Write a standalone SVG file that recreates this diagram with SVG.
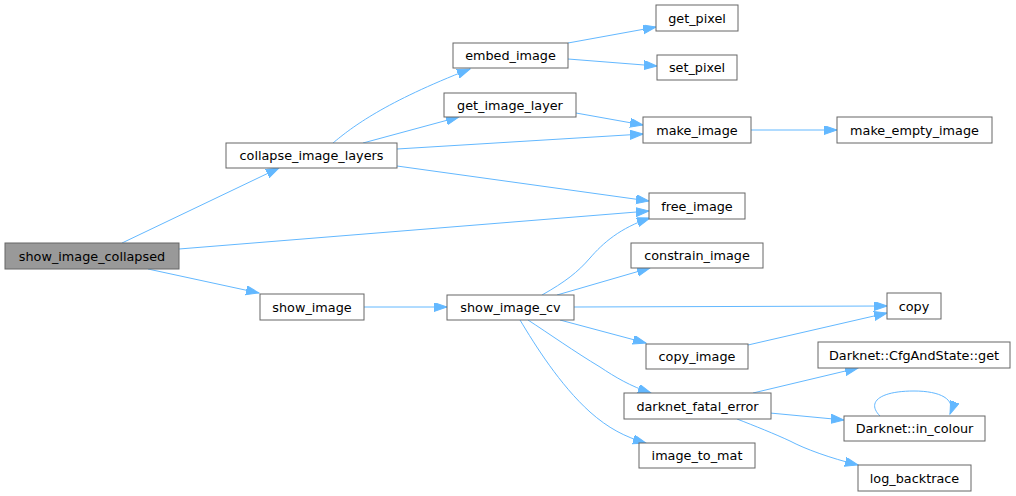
<svg xmlns="http://www.w3.org/2000/svg" width="1016" height="496" viewBox="0 0 1016 496">
<style>
.n rect{fill:#ffffff;stroke:#666666;stroke-width:1}
.n.root rect{fill:#999999}
.n text{font-family:"DejaVu Sans",sans-serif;font-size:12.8px;fill:#000000;text-anchor:middle}
.e path{fill:none;stroke:#63b8ff;stroke-width:1}
</style>
<defs>
<marker id="ah" markerUnits="userSpaceOnUse" markerWidth="14" markerHeight="10" refX="13" refY="4.5" orient="auto" viewBox="0 0 14 10">
<path d="M0,0 L13,4.5 L0,9 Z" fill="#63b8ff" stroke="#63b8ff" stroke-width="1"/>
</marker>
</defs>
<rect width="1016" height="496" fill="#ffffff"/>
<g id="edges" class="e" marker-end="url(#ah)">
<path d="M122,243 L279,168" marker-end="url(#ah)"/>
<path d="M179,249 L649,211" marker-end="url(#ah)"/>
<path d="M148,269 L259,293" marker-end="url(#ah)"/>
<path d="M333,143 C352,127 385,102 470,69" marker-end="url(#ah)"/>
<path d="M363,143 L459,117" marker-end="url(#ah)"/>
<path d="M397,149 L643,134" marker-end="url(#ah)"/>
<path d="M397,166 L649,201" marker-end="url(#ah)"/>
<path d="M568,43 L656,27" marker-end="url(#ah)"/>
<path d="M568,59 L657,66" marker-end="url(#ah)"/>
<path d="M576,113 L643,125" marker-end="url(#ah)"/>
<path d="M751,130 L837,130" marker-end="url(#ah)"/>
<path d="M364,307 L447,307" marker-end="url(#ah)"/>
<path d="M542,295 C565,282 578,272 590,258 C603,243 620,228 650,218" marker-end="url(#ah)"/>
<path d="M557,295 L650,268" marker-end="url(#ah)"/>
<path d="M574,307 L887,306" marker-end="url(#ah)"/>
<path d="M560,320 L646,343" marker-end="url(#ah)"/>
<path d="M528,320 C548,333 575,352 600,367 C615,377 630,386 651,393" marker-end="url(#ah)"/>
<path d="M520,320 C535,345 560,385 590,412 C608,428 625,437 646,443" marker-end="url(#ah)"/>
<path d="M748,345 L887,313" marker-end="url(#ah)"/>
<path d="M753,393 L858,368" marker-end="url(#ah)"/>
<path d="M770,413 L844,420" marker-end="url(#ah)"/>
<path d="M737,419 C755,426 775,434 790,441 C805,449 830,458 858,465" marker-end="url(#ah)"/>
<path d="M880,416 C866,402 880,391 914,391 C940,391 956,399 950,414" marker-end="url(#ah)"/>
</g>
<g id="show_image_collapsed" class="n root"><rect x="5" y="243" width="174" height="26"/><text x="92" y="260.5">show_image_collapsed</text></g>
<g id="collapse_image_layers" class="n"><rect x="226" y="143" width="171" height="25"/><text x="311.5" y="160">collapse_image_layers</text></g>
<g id="show_image" class="n"><rect x="260" y="294" width="104" height="26"/><text x="312" y="311.5">show_image</text></g>
<g id="embed_image" class="n"><rect x="453" y="43" width="115" height="25"/><text x="510.5" y="60">embed_image</text></g>
<g id="get_image_layer" class="n"><rect x="444" y="93" width="132" height="24"/><text x="510" y="109.5">get_image_layer</text></g>
<g id="get_pixel" class="n"><rect x="656" y="5" width="82" height="26"/><text x="697" y="22.5">get_pixel</text></g>
<g id="set_pixel" class="n"><rect x="657" y="55" width="80" height="25"/><text x="697" y="72">set_pixel</text></g>
<g id="make_image" class="n"><rect x="643" y="117" width="108" height="26"/><text x="697" y="134.5">make_image</text></g>
<g id="make_empty_image" class="n"><rect x="837" y="117" width="155" height="26"/><text x="914.5" y="134.5">make_empty_image</text></g>
<g id="free_image" class="n"><rect x="649" y="193" width="96" height="26"/><text x="697" y="210.5">free_image</text></g>
<g id="show_image_cv" class="n"><rect x="447" y="295" width="127" height="25"/><text x="510.5" y="312">show_image_cv</text></g>
<g id="constrain_image" class="n"><rect x="631" y="243" width="132" height="25"/><text x="697" y="260">constrain_image</text></g>
<g id="copy" class="n"><rect x="887" y="293" width="54" height="26"/><text x="914" y="310.5">copy</text></g>
<g id="copy_image" class="n"><rect x="646" y="344" width="102" height="25"/><text x="697" y="361">copy_image</text></g>
<g id="darknet_fatal_error" class="n"><rect x="624" y="393" width="147" height="26"/><text x="697.5" y="410.5">darknet_fatal_error</text></g>
<g id="image_to_mat" class="n"><rect x="639" y="443" width="116" height="25"/><text x="697" y="460">image_to_mat</text></g>
<g id="cfgandstate_get" class="n"><rect x="818" y="342" width="192" height="26"/><text x="914" y="359.5">Darknet::CfgAndState::get</text></g>
<g id="in_colour" class="n"><rect x="844" y="416" width="141" height="25"/><text x="914.5" y="433">Darknet::in_colour</text></g>
<g id="log_backtrace" class="n"><rect x="858" y="465" width="113" height="26"/><text x="914.5" y="482.5">log_backtrace</text></g>
</svg>
